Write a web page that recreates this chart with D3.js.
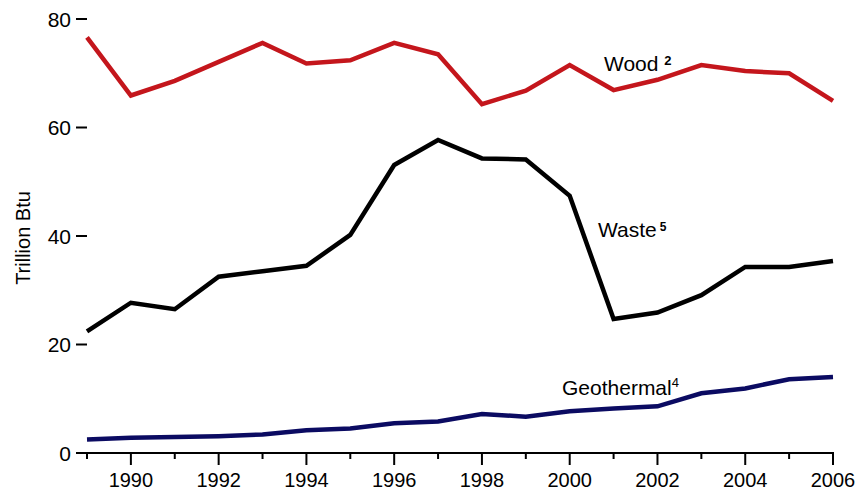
<!DOCTYPE html>
<html>
<head>
<meta charset="utf-8">
<script src="https://cdn.jsdelivr.net/npm/d3@7"></script>
<style>
  html, body { margin: 0; padding: 0; background: #fff; }
  svg { display: block; font-family: "Liberation Sans", Arial, Helvetica, sans-serif; }
</style>
</head>
<body>
<svg id="chart" width="860" height="491"></svg>
<script>
const years = [1989,1990,1991,1992,1993,1994,1995,1996,1997,1998,1999,2000,2001,2002,2003,2004,2005,2006];
const wood = [76.6,65.9,68.6,72.1,75.6,71.8,72.4,75.6,73.5,64.3,66.8,71.5,66.9,68.8,71.5,70.4,70.0,64.9];
const waste = [22.4,27.7,26.5,32.5,33.5,34.5,40.2,53.1,57.7,54.3,54.1,47.4,24.7,25.9,29.1,34.3,34.3,35.4];
const geothermal = [2.5,2.8,2.95,3.1,3.4,4.2,4.5,5.5,5.8,7.2,6.7,7.7,8.2,8.6,11.0,11.9,13.6,14.0];
const yTicks = [0,20,40,60,80];
const xTickLabels = [1990,1992,1994,1996,1998,2000,2002,2004,2006];
const yTitle = "Trillion Btu";

const svg = d3.select("#chart");
const x = d3.scaleLinear().domain([1989, 2006]).range([87, 833]);
const y = d3.scaleLinear().domain([0, 80]).range([453, 19]);

// Y ticks (no axis line)
const gy = svg.append("g");
yTicks.forEach(v => {
  gy.append("line").attr("x1", 76).attr("x2", 87).attr("y1", y(v)).attr("y2", y(v))
    .attr("stroke", "#000").attr("stroke-width", 2);
  gy.append("text").attr("x", 71).attr("y", y(v)).attr("dy", "0.36em")
    .attr("text-anchor", "end").attr("font-size", 21).attr("fill", "#000").text(v);
});

// X axis
const gx = svg.append("g");
gx.append("line").attr("x1", 76).attr("x2", x(2006) + 1).attr("y1", y(0)).attr("y2", y(0))
  .attr("stroke", "#000").attr("stroke-width", 2);
years.forEach(yr => {
  const major = xTickLabels.includes(yr);
  gx.append("line").attr("x1", x(yr)).attr("x2", x(yr)).attr("y1", y(0)).attr("y2", y(0) + (major ? 12 : 6))
    .attr("stroke", "#000").attr("stroke-width", 2);
});
xTickLabels.forEach(yr => {
  gx.append("text").attr("x", x(yr)).attr("y", 486.5).attr("text-anchor", "middle")
    .attr("font-size", 20).attr("fill", "#000").text(yr);
});

// Y title
svg.append("text").attr("transform", "translate(30,238) rotate(-90)")
  .attr("text-anchor", "middle").attr("font-size", 20).attr("fill", "#000").text(yTitle);

const line = d3.line().x((d, i) => x(years[i])).y(d => y(d));

svg.append("path").datum(geothermal).attr("d", line).attr("fill", "none")
  .attr("stroke", "#0b0b62").attr("stroke-width", 4.5);
svg.append("path").datum(waste).attr("d", line).attr("fill", "none")
  .attr("stroke", "#000").attr("stroke-width", 4.5);
svg.append("path").datum(wood).attr("d", line).attr("fill", "none")
  .attr("stroke", "#c4161c").attr("stroke-width", 4.5);

// Series labels
const tw = svg.append("text").attr("x", 604).attr("y", 71).attr("font-size", 21).attr("fill", "#000");
tw.append("tspan").text("Wood ");
tw.append("tspan").attr("font-size", 13).attr("font-weight", "bold").attr("dy", -6).text("2");

const ts = svg.append("text").attr("x", 598).attr("y", 237).attr("font-size", 21).attr("fill", "#000");
ts.append("tspan").text("Waste");
ts.append("tspan").attr("font-size", 12).attr("font-weight", "bold").attr("dx", 3).attr("dy", -6).text("5");

const tg = svg.append("text").attr("x", 562).attr("y", 395).attr("font-size", 21).attr("fill", "#000");
tg.append("tspan").text("Geothermal");
tg.append("tspan").attr("font-size", 13).attr("dy", -8).text("4");
</script>
</body>
</html>
